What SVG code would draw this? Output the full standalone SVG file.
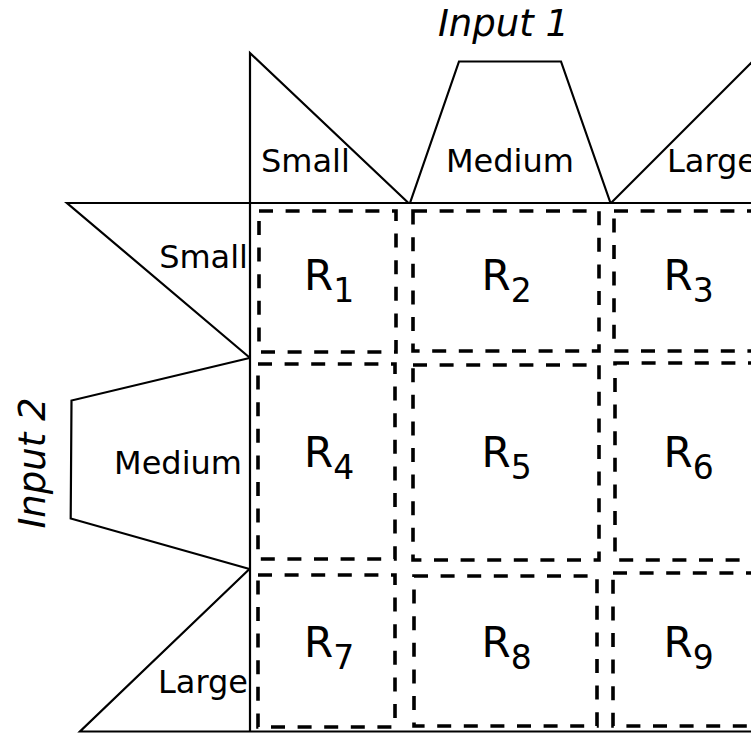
<svg xmlns="http://www.w3.org/2000/svg" width="751" height="734" viewBox="0 0 751 734">
<style>
.ax{fill:none;stroke:#000;stroke-width:2.2;stroke-linejoin:miter}
.rg{fill:none;stroke:#000;stroke-width:3.6}
.lb{font-family:"DejaVu Sans",sans-serif;font-size:32px;fill:#000}
.rl{font-family:"DejaVu Sans",sans-serif;font-size:42px;fill:#000}
.sb{font-size:33px}
.tt{font-family:"DejaVu Sans",sans-serif;font-size:37px;font-style:italic;fill:#000;text-anchor:middle}
</style>
<rect width="751" height="734" fill="#fff"/>
<g id="input1">
  <text class="tt" x="503.5" y="36">Input 1</text>
  <polyline class="ax" points="250,732 250,53 408.5,203"/>
  <polyline class="ax" points="410,203 459,61.5 561,61.5 610.5,203"/>
  <polyline class="ax" points="611,203 762,52"/>
  <text class="lb" x="261" y="172">Small</text>
  <text class="lb" x="446" y="172">Medium</text>
  <text class="lb" x="667" y="172">Large</text>
</g>
<g id="input2">
  <text class="tt" transform="translate(45,463) rotate(-90)">Input 2</text>
  <polyline class="ax" points="751,203 67,203 249.5,357.5"/>
  <polyline class="ax" points="249.5,358 71.5,400.5 70.7,518.5 249.5,569"/>
  <polyline class="ax" points="249.5,569 80,731.5 751,731.5"/>
  <text class="lb" x="248" y="268" text-anchor="end">Small</text>
  <text class="lb" x="242" y="474" text-anchor="end">Medium</text>
  <text class="lb" x="248" y="693" text-anchor="end">Large</text>
</g>
<g id="regions" stroke-dasharray="14 12.6">
<g id="R1"><rect class="rg" x="259" y="211" width="137" height="141"/><text class="rl" x="304" y="289.5">R<tspan class="sb" dy="12">1</tspan></text></g>
<g id="R2"><rect class="rg" x="413" y="211" width="186" height="140"/><text class="rl" x="481.5" y="289.5">R<tspan class="sb" dy="12">2</tspan></text></g>
<g id="R3"><rect class="rg" x="614" y="211" width="150" height="140"/><text class="rl" x="663.5" y="289.5">R<tspan class="sb" dy="12">3</tspan></text></g>
<g id="R4"><rect class="rg" x="258" y="364" width="137" height="195"/><text class="rl" x="304" y="467">R<tspan class="sb" dy="12">4</tspan></text></g>
<g id="R5"><rect class="rg" x="413" y="365" width="186" height="195"/><text class="rl" x="481.5" y="467">R<tspan class="sb" dy="12">5</tspan></text></g>
<g id="R6"><rect class="rg" x="615" y="363" width="150" height="197"/><text class="rl" x="663.5" y="467">R<tspan class="sb" dy="12">6</tspan></text></g>
<g id="R7"><rect class="rg" x="258" y="575" width="137" height="152"/><text class="rl" x="304" y="656.5">R<tspan class="sb" dy="12">7</tspan></text></g>
<g id="R8"><rect class="rg" x="414" y="576" width="183" height="150"/><text class="rl" x="481.5" y="656.5">R<tspan class="sb" dy="12">8</tspan></text></g>
<g id="R9"><rect class="rg" x="613" y="573" width="150" height="153"/><text class="rl" x="663.5" y="656.5">R<tspan class="sb" dy="12">9</tspan></text></g>
</g>
<g id="connectors"></g>
</svg>
